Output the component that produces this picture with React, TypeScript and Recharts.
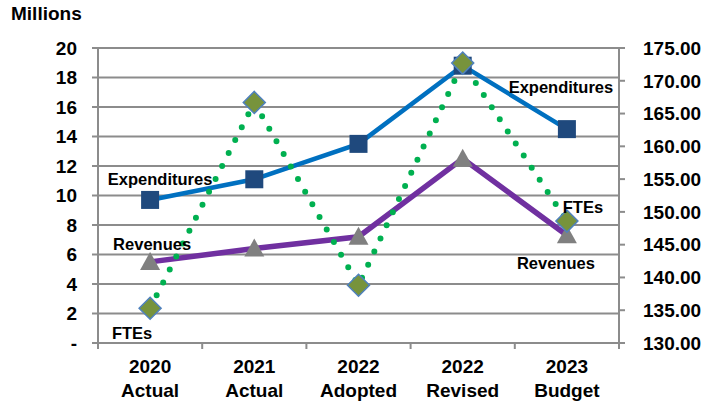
import React from 'react';
import { ComposedChart, Line, XAxis, YAxis, CartesianGrid, LabelList } from 'recharts';

// values
const years = ['2020', '2021', '2022', '2022', '2023'];
const stages = ['Actual', 'Actual', 'Adopted', 'Revised', 'Budget'];
const expenditures = [9.7, 11.1, 13.5, 18.8, 14.5];
const revenues = [5.5, 6.4, 7.2, 12.5, 7.3];
const ftes = [135.3, 166.7, 138.8, 172.7, 148.6];
const leftTicks = [0, 2, 4, 6, 8, 10, 12, 14, 16, 18, 20];
const rightTicks = [130, 135, 140, 145, 150, 155, 160, 165, 170, 175];

const data = years.map((y, i) => ({
  x: i,
  exp: expenditures[i],
  rev: revenues[i],
  fte: ftes[i],
}));

// category centres plus the boundaries between them
const xTicks = [...years.flatMap((_, i) => [i - 0.5, i]), years.length - 0.5];

const FONT = '"Liberation Sans", Arial, sans-serif';
const GRID = '#8c8c8c';

const XTick = (props: any) => {
  const { x, y, payload } = props;
  const v = payload.value;
  if (!Number.isInteger(v)) {
    return <line x1={x} y1={y} x2={x} y2={y + 6} stroke={GRID} strokeWidth={2} />;
  }
  return (
    <g>
      <text x={x} y={y + 30} textAnchor="middle" fontFamily={FONT} fontWeight="bold" fontSize={19} fill="#000">
        {years[v]}
      </text>
      <text x={x} y={y + 54} textAnchor="middle" fontFamily={FONT} fontWeight="bold" fontSize={19} fill="#000">
        {stages[v]}
      </text>
    </g>
  );
};

const Square = (p: any) => (
  <rect key={`sq-${p.index}`} x={p.cx - 9} y={p.cy - 9} width={18} height={18} fill="#1F497D" />
);
const Triangle = (p: any) => (
  <polygon
    key={`tr-${p.index}`}
    points={`${p.cx},${p.cy - 10} ${p.cx + 10},${p.cy + 8} ${p.cx - 10},${p.cy + 8}`}
    fill="#808080"
  />
);
const Diamond = (p: any) => (
  <polygon
    key={`di-${p.index}`}
    points={`${p.cx},${p.cy - 11} ${p.cx + 11},${p.cy} ${p.cx},${p.cy + 11} ${p.cx - 11},${p.cy}`}
    fill="#77933C"
    stroke="#4F81BD"
    strokeWidth={1.5}
  />
);

// series name shown beside first and last point
const nameLabel = (name: string, first: [number, number], last: [number, number]) => (p: any) => {
  const n = years.length - 1;
  if (p.index !== 0 && p.index !== n) return null;
  const [dx, dy] = p.index === 0 ? first : last;
  return (
    <text
      key={`${name}-${p.index}`}
      x={p.x + dx}
      y={p.y + dy}
      textAnchor="middle"
      dominantBaseline="central"
      fontFamily={FONT}
      fontWeight="bold"
      fontSize={16.5}
      fill="#000"
    >
      {name}
    </text>
  );
};

const axisTick = { fontFamily: FONT, fontWeight: 'bold', fontSize: 19, fill: '#000' };

export default function App() {
  return (
    <div style={{ position: 'absolute', left: 0, top: 0, width: 713, height: 403, background: '#fff' }}>
      <div
        style={{
          position: 'absolute',
          left: 11,
          top: 3,
          fontFamily: FONT,
          fontWeight: 'bold',
          fontSize: 19,
          color: '#000',
        }}
      >
        Millions
      </div>
      <ComposedChart width={713} height={403} data={data} margin={{ top: 48, right: 0, bottom: 0, left: 0 }}>
        <CartesianGrid yAxisId="left" vertical={false} stroke={GRID} strokeWidth={2} />
        <XAxis
          dataKey="x"
          type="number"
          domain={[-0.5, years.length - 0.5]}
          ticks={xTicks}
          interval={0}
          tickLine={false}
          tickSize={0}
          tickMargin={0}
          tick={<XTick />}
          axisLine={{ stroke: GRID, strokeWidth: 2 }}
          height={60}
        />
        <YAxis
          yAxisId="left"
          domain={[0, 20]}
          ticks={leftTicks}
          interval={0}
          width={98}
          tickSize={6}
          tickMargin={15}
          tick={axisTick}
          tickFormatter={(v: number) => (v === 0 ? '-' : String(v))}
          tickLine={{ stroke: GRID, strokeWidth: 2 }}
          axisLine={{ stroke: GRID, strokeWidth: 2 }}
        />
        <YAxis
          yAxisId="right"
          orientation="right"
          domain={[130, 175]}
          ticks={rightTicks}
          interval={0}
          width={94}
          tickSize={6}
          tickMargin={18}
          tick={{ ...axisTick, textAnchor: 'start' }}
          tickFormatter={(v: number) => v.toFixed(2)}
          tickLine={{ stroke: GRID, strokeWidth: 2 }}
          axisLine={{ stroke: GRID, strokeWidth: 2 }}
        />
        <Line
          yAxisId="left"
          dataKey="exp"
          stroke="#0070C0"
          strokeWidth={4.5}
          dot={Square}
          activeDot={false}
          isAnimationActive={false}
        >
          <LabelList content={nameLabel('Expenditures', [10, -21], [-6, -42])} />
        </Line>
        <Line
          yAxisId="left"
          dataKey="rev"
          stroke="#7030A0"
          strokeWidth={5.5}
          dot={Triangle}
          activeDot={false}
          isAnimationActive={false}
        >
          <LabelList content={nameLabel('Revenues', [2, -18], [-11, 28])} />
        </Line>
        <Line
          yAxisId="right"
          dataKey="fte"
          stroke="#00B050"
          strokeWidth={6}
          strokeDasharray="0 14.5"
          strokeLinecap="round"
          dot={Diamond}
          activeDot={false}
          isAnimationActive={false}
        >
          <LabelList content={nameLabel('FTEs', [-18, 25], [16, -14])} />
        </Line>
      </ComposedChart>
    </div>
  );
}
